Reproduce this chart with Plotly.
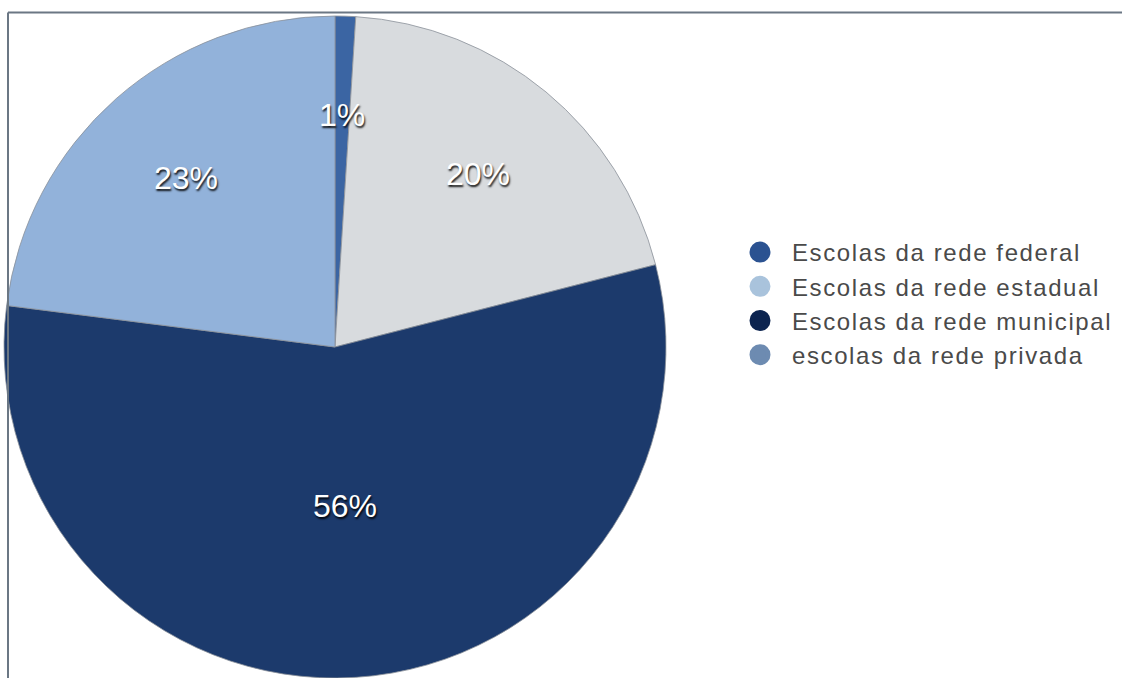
import math
import plotly.graph_objects as go

W, H = 1122, 678

# Data (clockwise from 12 o'clock)
slice_labels = ["Escolas da rede federal", "escolas da rede privada",
                "Escolas da rede municipal", "Escolas da rede estadual"]
slice_values = [1, 20, 56, 23]
slice_colors = ["#3b65a3", "#d8dbde", "#1c3a6c", "#92b2da"]

legend_labels = ["Escolas da rede federal", "Escolas da rede estadual",
                 "Escolas da rede municipal", "escolas da rede privada"]
legend_colors = ["#2b5291", "#a9c3dc", "#0c2450", "#6d8bb1"]

# style: radial position of each percentage label (fraction of radius)
label_radius = [0.70, 0.68, 0.48, 0.68]

# pie geometry (pixels)
CX, CY, R = 335, 347, 331

FONT = "Liberation Sans, Arial, Helvetica, sans-serif"
SHADOW = "1px 2px 2px rgba(0,0,0,0.9)"

fig = go.Figure()
fig.add_trace(go.Pie(
    labels=slice_labels,
    values=slice_values,
    sort=False,
    direction="clockwise",
    rotation=0,
    marker=dict(colors=slice_colors, line=dict(color="#8a9099", width=0.8)),
    textinfo="none",
    showlegend=False,
    hoverinfo="label+percent",
    domain=dict(x=[(CX - R) / W, (CX + R) / W], y=[1 - (CY + R) / H, 1 - (CY - R) / H]),
))

# percentage labels placed at each slice's mid-angle
total = sum(slice_values)
ann_font = dict(family=FONT, size=32, color="white")
try:
    go.layout.annotation.Font(shadow=SHADOW)
    ann_font["shadow"] = SHADOW
except Exception:
    pass

annotations = []
cum = 0
for v, rf in zip(slice_values, label_radius):
    mid = 2 * math.pi * (cum + v / 2) / total
    cum += v
    lx = CX + rf * R * math.sin(mid)
    ly = CY - rf * R * math.cos(mid)
    annotations.append(dict(
        x=lx / W, y=1 - ly / H, xref="paper", yref="paper",
        text=f"{round(100 * v / total)}%", showarrow=False,
        font=ann_font, xanchor="center", yanchor="middle",
    ))

for name, col in zip(legend_labels, legend_colors):
    fig.add_trace(go.Scatter(
        x=[None], y=[None], mode="markers",
        name=f'<span style="letter-spacing:1.6px">{name}</span>',
        marker=dict(symbol="circle", size=25, color=col, line=dict(color=col, width=5)),
        showlegend=True,
    ))

fig.update_layout(
    width=W, height=H,
    margin=dict(l=0, r=0, t=0, b=0),
    paper_bgcolor="white",
    plot_bgcolor="white",
    xaxis=dict(visible=False),
    yaxis=dict(visible=False),
    annotations=annotations,
    legend=dict(
        x=728 / W, y=1 - 230 / H, xanchor="left", yanchor="top",
        font=dict(family=FONT, size=24, color="#4a4a4a"),
        itemsizing="trace",
        itemwidth=54,
        tracegroupgap=0,
        bgcolor="rgba(0,0,0,0)",
    ),
    shapes=[
        dict(type="line", xref="paper", yref="paper",
             x0=8 / W, x1=1, y0=1 - 12.5 / H, y1=1 - 12.5 / H,
             line=dict(color="#6b7784", width=2)),
        dict(type="line", xref="paper", yref="paper",
             x0=8 / W, x1=8 / W, y0=1 - 12.5 / H, y1=0,
             line=dict(color="#6b7784", width=2)),
    ],
)

fig.write_html("out.html")
